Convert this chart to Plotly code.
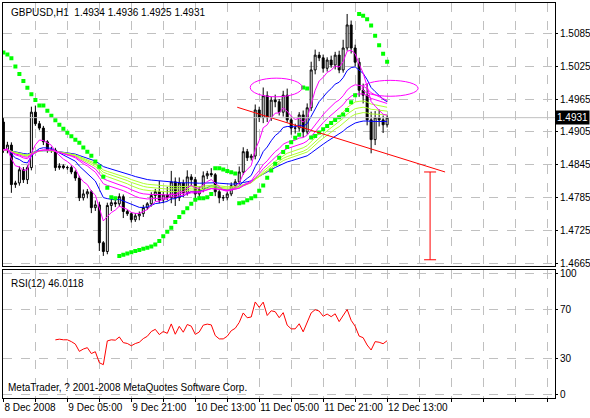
import numpy as np
import plotly.graph_objects as go
from plotly.subplots import make_subplots

# GBPUSD H1, bar 0 = 8 Dec 2008 13:00
closes = [1.4872, 1.4881, 1.4809, 1.4812, 1.4836, 1.4818, 1.4840, 1.4941, 1.4920, 1.4912,
          1.4887, 1.4872, 1.4872, 1.4840, 1.4843, 1.4840, 1.4840, 1.4832, 1.4821, 1.4785,
          1.4792, 1.4796, 1.4767, 1.4772, 1.4703, 1.4687, 1.4771, 1.4776, 1.4774, 1.4787,
          1.4760, 1.4756, 1.4745, 1.4752, 1.4756, 1.4767, 1.4774, 1.4789, 1.4796, 1.4781,
          1.4790, 1.4785, 1.4814, 1.4785, 1.4812, 1.4794, 1.4823, 1.4818, 1.4792, 1.4800,
          1.4825, 1.4829, 1.4827, 1.4796, 1.4785, 1.4785, 1.4792, 1.4807, 1.4814, 1.4832,
          1.4869, 1.4858, 1.4861, 1.4945, 1.4931, 1.4971, 1.4931, 1.4963, 1.4960, 1.4941,
          1.4972, 1.4927, 1.4912, 1.4912, 1.4936, 1.4905, 1.4949, 1.5018, 1.5045, 1.5040,
          1.5021, 1.5036, 1.5027, 1.5045, 1.5018, 1.5058, 1.5100, 1.5058, 1.5032, 1.4981,
          1.4972, 1.4927, 1.4891, 1.4931, 1.4927, 1.4918, 1.4931]
first_open = 1.4923
# wick lengths in pips
wick_up = [8, 6, 5, 4, 6, 5, 4, 10, 12, 5, 4, 3, 6, 4, 5, 3, 3, 4, 3, 4,
           8, 5, 3, 8, 5, 3, 5, 8, 5, 6, 4, 3, 3, 5, 4, 5, 3, 6, 5, 20,
           6, 15, 20, 8, 10, 6, 12, 5, 5, 6, 8, 5, 10, 3, 3, 5, 4, 6, 5, 10,
           8, 5, 4, 10, 6, 15, 8, 6, 10, 5, 8, 12, 6, 8, 5, 8, 8, 15, 10, 6,
           6, 5, 8, 6, 8, 15, 20, 8, 6, 8, 12, 20, 15, 12, 15, 8, 4]
wick_dn = [5, 6, 15, 6, 5, 6, 8, 5, 4, 4, 6, 5, 5, 6, 4, 3, 4, 4, 5, 6,
           5, 8, 10, 6, 15, 8, 5, 10, 6, 5, 12, 4, 5, 4, 8, 6, 4, 5, 10, 6,
           6, 5, 10, 15, 6, 8, 5, 12, 8, 6, 5, 6, 4, 8, 10, 6, 5, 4, 6, 5,
           5, 6, 5, 6, 8, 10, 8, 6, 10, 6, 8, 5, 12, 10, 6, 10, 5, 6, 8, 6,
           8, 6, 5, 8, 6, 5, 5, 10, 8, 12, 15, 10, 25, 10, 12, 15, 5]

time_labels = ["8 Dec 2008", "9 Dec 05:00", "9 Dec 21:00", "10 Dec 13:00",
               "11 Dec 05:00", "11 Dec 21:00", "12 Dec 13:00"]
price_ticks = [1.4665, 1.4725, 1.4785, 1.4845, 1.4905, 1.4965, 1.5025, 1.5085]
price_text = ["1.4665", "1.4725", "1.4785", "1.4845", "1.4905", "1.4965", "1.5025", "1.5085"]
rsi_ticks = [0, 30, 70, 100]

# drawn objects (bar index, price)
ellipse1 = [61.75, 74.75, 1.4969, 1.5003]
ellipse2 = [89.75, 103.75, 1.4970, 1.4999]
trend_line = [58.5, 1.4950, 110.5, 1.4832]
range_bar = [106.75, 1.4832, 1.4672]

n = len(closes)
x = np.arange(n)
c = np.array(closes)
o = np.array([first_open] + closes[:-1])
h = np.maximum(o, c) + np.array(wick_up) / 10000
l = np.minimum(o, c) - np.array(wick_dn) / 10000


def ema(v, p):
    out = np.zeros(len(v))
    out[0] = v[0]
    k = 2 / (p + 1)
    for i in range(1, len(v)):
        out[i] = v[i] * k + out[i - 1] * (1 - k)
    return out


def psar(hi, lo, step=0.02, amax=0.2):
    sar = np.zeros(len(hi))
    up = False
    af = step
    ep = lo[0]
    sar[0] = 1.5050
    for i in range(1, len(hi)):
        s = sar[i - 1] + af * (ep - sar[i - 1])
        if up:
            s = min(s, lo[i - 1], lo[max(i - 2, 0)])
            if lo[i] < s:
                up, s, ep, af = False, ep, lo[i], step
            elif hi[i] > ep:
                ep, af = hi[i], min(af + step, amax)
        else:
            s = max(s, hi[i - 1], hi[max(i - 2, 0)])
            if hi[i] > s:
                up, s, ep, af = True, ep, hi[i], step
            elif lo[i] < ep:
                ep, af = lo[i], min(af + step, amax)
        sar[i] = s
    return sar


def rsi(v, p=12):
    d = np.diff(v)
    g = np.where(d > 0, d, 0)
    ls = np.where(d < 0, -d, 0)
    ag, al = g[:p].mean(), ls[:p].mean()
    out = [np.nan] * (p + 1)
    for i in range(p, len(d)):
        ag = (ag * (p - 1) + g[i]) / p
        al = (al * (p - 1) + ls[i]) / p
        out.append(100 - 100 / (1 + ag / al) if al > 0 else 100)
    return np.array(out[:len(v)])


fig = make_subplots(rows=2, cols=1, shared_xaxes=True, row_heights=[0.672, 0.328],
                    vertical_spacing=0.01)

ma_list = [(60, "#0000ff"), (14, "#0000ff"), (36, "#adff2f"), (42, "#adff2f"), (48, "#adff2f"),
           (30, "#ff00ff"), (24, "#ff00ff"), (6, "#ff00ff")]
for p, col in ma_list:
    fig.add_trace(go.Scatter(x=x, y=ema(c, p), mode="lines", line=dict(color=col, width=1),
                             hoverinfo="skip"), row=1, col=1)

fig.add_trace(go.Candlestick(x=x, open=o, high=h, low=l, close=c, whiskerwidth=0,
                             increasing=dict(line=dict(color="black", width=1), fillcolor="white"),
                             decreasing=dict(line=dict(color="black", width=1), fillcolor="black")),
              row=1, col=1)
fig.add_trace(go.Scatter(x=x, y=psar(h, l), mode="markers",
                         marker=dict(color="#00ff00", size=4, symbol="square")), row=1, col=1)
fig.add_trace(go.Scatter(x=x, y=rsi(c), mode="lines", line=dict(color="red", width=1)),
              row=2, col=1)

fig.add_shape(type="circle", x0=ellipse1[0], x1=ellipse1[1], y0=ellipse1[2], y1=ellipse1[3],
              line=dict(color="#ff00ff", width=1), row=1, col=1)
fig.add_shape(type="circle", x0=ellipse2[0], x1=ellipse2[1], y0=ellipse2[2], y1=ellipse2[3],
              line=dict(color="#ff00ff", width=1), row=1, col=1)
fig.add_shape(type="line", x0=trend_line[0], y0=trend_line[1], x1=trend_line[2], y1=trend_line[3],
              line=dict(color="red", width=1), row=1, col=1)
rx = range_bar[0]
fig.add_shape(type="line", x0=rx, x1=rx, y0=range_bar[1], y1=range_bar[2],
              line=dict(color="red", width=1), row=1, col=1)
for yy in range_bar[1:]:
    fig.add_shape(type="line", x0=rx - 1.5, x1=rx + 1.5, y0=yy, y1=yy,
                  line=dict(color="red", width=1), row=1, col=1)
fig.add_shape(type="line", xref="x domain", x0=0, x1=1, y0=closes[-1], y1=closes[-1],
              line=dict(color="#c0c0c0", width=1), row=1, col=1)

tickvals = list(range(0, 140, 8))
ticktext = [time_labels[v // 16] if v % 16 == 0 and v // 16 < len(time_labels) else ""
            for v in tickvals]
ax = dict(range=[-0.1, 138], showgrid=True, gridcolor="#c0c0c0", griddash="dash", gridwidth=1,
          showline=True, linecolor="black", mirror=True, zeroline=False, automargin=False,
          tickvals=tickvals, ticktext=ticktext, tickangle=0)
fig.update_xaxes(**ax, rangeslider_visible=False)
fig.update_xaxes(showticklabels=False, row=1, col=1)
fig.update_xaxes(ticks="outside", ticklen=3, tickcolor="black", ticklabelposition="outside right",
                 row=2, col=1)
fig.update_yaxes(side="right", showgrid=True, gridcolor="#c0c0c0", griddash="dash",
                 showline=True, linecolor="black", mirror=True, zeroline=False, automargin=False,
                 ticks="outside", ticklen=2, tickcolor="black", tickfont=dict(size=10))
fig.update_yaxes(range=[1.4661, 1.5140], tickvals=price_ticks, ticktext=price_text, row=1, col=1)
fig.update_yaxes(range=[-3, 103], tickvals=rsi_ticks, row=2, col=1)

fig.add_annotation(text="GBPUSD,H1  1.4934 1.4936 1.4925 1.4931", xref="paper", yref="paper",
                   x=0.01, y=0.995, xanchor="left", yanchor="top", showarrow=False)
fig.add_annotation(text="RSI(12) 46.0118", xref="x domain", yref="y2 domain",
                   x=0.01, y=0.95, xanchor="left", yanchor="top", showarrow=False)
fig.add_annotation(text="MetaTrader, ? 2001-2008 MetaQuotes Software Corp.", xref="x domain",
                   yref="y2 domain", x=0.005, y=0.02, xanchor="left", yanchor="bottom",
                   showarrow=False)
fig.add_annotation(text="%.4f" % closes[-1], xref="paper", yref="y", x=1.0, y=closes[-1],
                   xanchor="left", showarrow=False, bgcolor="black",
                   font=dict(color="white", size=10), borderpad=1)

fig.update_layout(width=590, height=418, margin=dict(l=3, r=35, t=3, b=20),
                  paper_bgcolor="white", plot_bgcolor="white", showlegend=False,
                  font=dict(family="Liberation Sans", size=10, color="black"))
fig.write_html("out.html", config={"displayModeBar": False},
               post_script="document.body.style.margin='0';")
